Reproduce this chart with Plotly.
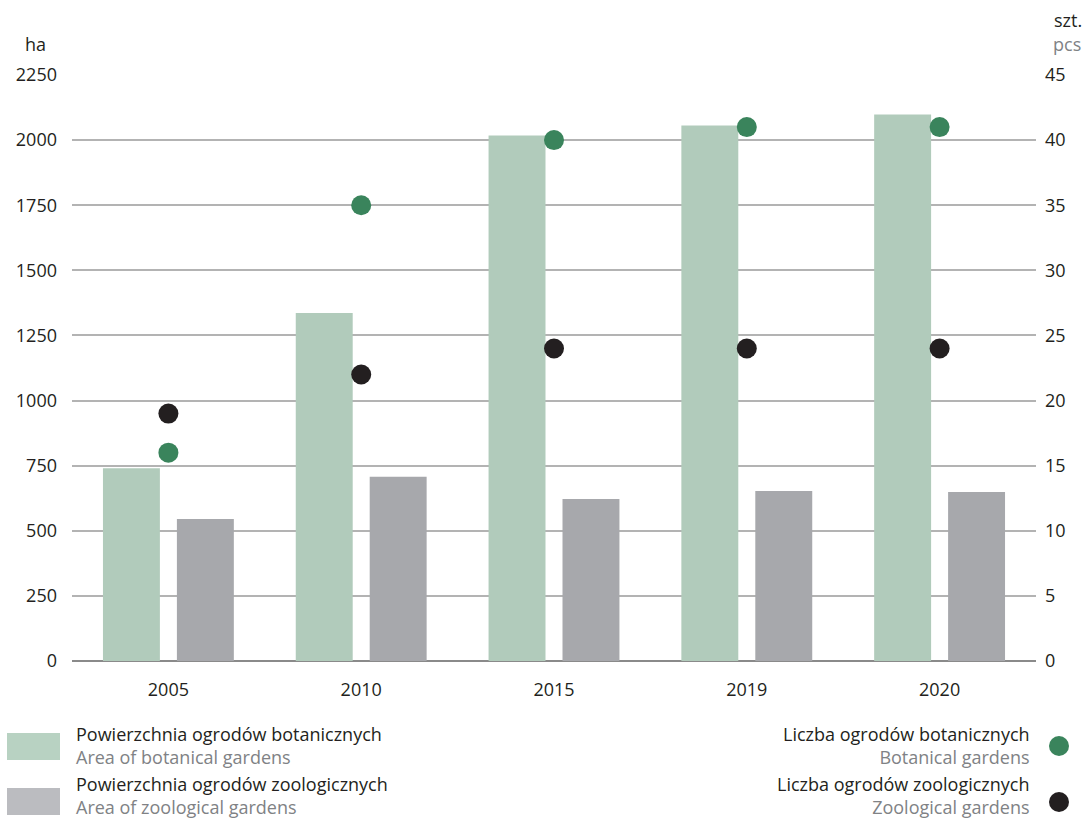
import plotly.graph_objects as go

years = ["2005", "2010", "2015", "2019", "2020"]
area_botanical = [740, 1336, 2018, 2056, 2098]
area_zoological = [545, 707, 622, 653, 649]
count_botanical = [16, 35, 40, 41, 41]
count_zoological = [19, 22, 24, 24, 24]
left_ticks = [0, 250, 500, 750, 1000, 1250, 1500, 1750, 2000, 2250]
right_ticks = [0, 5, 10, 15, 20, 25, 30, 35, 40, 45]

FONT = "Open Sans"
DARK = "#231f20"
GREY_TXT = "#808285"
C_BOT_BAR = "#b1cbbb"
C_ZOO_BAR = "#a7a8ac"
C_BOT_DOT = "#3a845c"
C_ZOO_DOT = "#231f20"
TICK_SIZE = 18
LEG_SIZE = 18

fig = go.Figure()
fig.add_trace(go.Bar(x=years, y=area_botanical, marker_color=C_BOT_BAR, marker_line_width=0,
                     name="Powierzchnia ogrodów botanicznych", offsetgroup="a"))
fig.add_trace(go.Bar(x=years, y=area_zoological, marker_color=C_ZOO_BAR, marker_line_width=0,
                     name="Powierzchnia ogrodów zoologicznych", offsetgroup="b"))
fig.add_trace(go.Scatter(x=years, y=count_botanical, yaxis="y2", mode="markers",
                         marker=dict(size=20, color=C_BOT_DOT), name="Liczba ogrodów botanicznych"))
fig.add_trace(go.Scatter(x=years, y=count_zoological, yaxis="y2", mode="markers",
                         marker=dict(size=20, color=C_ZOO_DOT), name="Liczba ogrodów zoologicznych"))

L, R, T, B = 72, 49, 75, 161
W, H = 1085, 822
pw, ph = W - L - R, H - T - B

def px(x):
    return (x - L) / pw

def py(y):
    return (H - B - y) / ph

fig.update_layout(
    width=W, height=H,
    margin=dict(l=L, r=R, t=T, b=B),
    paper_bgcolor="white", plot_bgcolor="white",
    showlegend=False,
    barmode="group", bargap=0.233, bargroupgap=0.23,
    font=dict(family=FONT, size=TICK_SIZE, color=DARK),
    xaxis=dict(type="category", showgrid=False, zeroline=False, showline=False,
               ticks="outside", ticklen=12, tickcolor="rgba(0,0,0,0)",
               tickfont=dict(size=TICK_SIZE, color=DARK)),
    yaxis=dict(range=[0, 2250], tickvals=left_ticks, showgrid=True, gridcolor="#b3b3b3",
               gridwidth=1.5, zeroline=True, zerolinecolor="#8a8a8a", zerolinewidth=2,
               showline=False, ticks="", ticklabelstandoff=14,
               tickfont=dict(size=TICK_SIZE, color=DARK)),
    yaxis2=dict(range=[0, 45], tickvals=right_ticks, overlaying="y", side="right",
                showgrid=False, zeroline=False, showline=False, ticks="",
                ticklabelstandoff=8, tickfont=dict(size=TICK_SIZE, color=DARK)),
)


def two_line(pl, en):
    return f"{pl}<br><span style='color:{GREY_TXT}'>{en}</span>"


annotations = [
    dict(text="ha", x=px(35), y=py(44), xanchor="center", yanchor="middle",
         font=dict(size=TICK_SIZE, color=DARK)),
    dict(text="szt.", x=px(1068), y=py(20), xanchor="center", yanchor="middle",
         font=dict(size=TICK_SIZE, color=DARK)),
    dict(text="pcs", x=px(1067), y=py(44), xanchor="center", yanchor="middle",
         font=dict(size=TICK_SIZE, color=GREY_TXT)),
    dict(text=two_line("Powierzchnia ogrodów botanicznych", "Area of botanical gardens"),
         x=px(74), y=py(745), xanchor="left", yanchor="middle", align="left",
         font=dict(size=LEG_SIZE, color=DARK)),
    dict(text=two_line("Powierzchnia ogrodów zoologicznych", "Area of zoological gardens"),
         x=px(74), y=py(795), xanchor="left", yanchor="middle", align="left",
         font=dict(size=LEG_SIZE, color=DARK)),
    dict(text=two_line("Liczba ogrodów botanicznych", "Botanical gardens"),
         x=px(1032), y=py(745), xanchor="right", yanchor="middle", align="right",
         font=dict(size=LEG_SIZE, color=DARK)),
    dict(text=two_line("Liczba ogrodów zoologicznych", "Zoological gardens"),
         x=px(1032), y=py(795), xanchor="right", yanchor="middle", align="right",
         font=dict(size=LEG_SIZE, color=DARK)),
]
for a in annotations:
    a.update(xref="paper", yref="paper", showarrow=False)
fig.update_layout(annotations=annotations)

shapes = [
    dict(type="rect", x0=px(7), x1=px(60), y0=py(760), y1=py(733),
         fillcolor="#b8d2c2", line_width=0),
    dict(type="rect", x0=px(7), x1=px(60), y0=py(815), y1=py(788),
         fillcolor="#bbbcc0", line_width=0),
    dict(type="circle", x0=px(1049), x1=px(1069), y0=py(756), y1=py(736),
         fillcolor=C_BOT_DOT, line_width=0),
    dict(type="circle", x0=px(1049), x1=px(1069), y0=py(812), y1=py(792),
         fillcolor=C_ZOO_DOT, line_width=0),
]
for s in shapes:
    s.update(xref="paper", yref="paper")
fig.update_layout(shapes=shapes)

fig.write_html("out.html", config={"displayModeBar": False},
               post_script="document.body.style.margin='0';document.body.style.padding='0';"
                           "document.body.style.overflow='hidden';")
